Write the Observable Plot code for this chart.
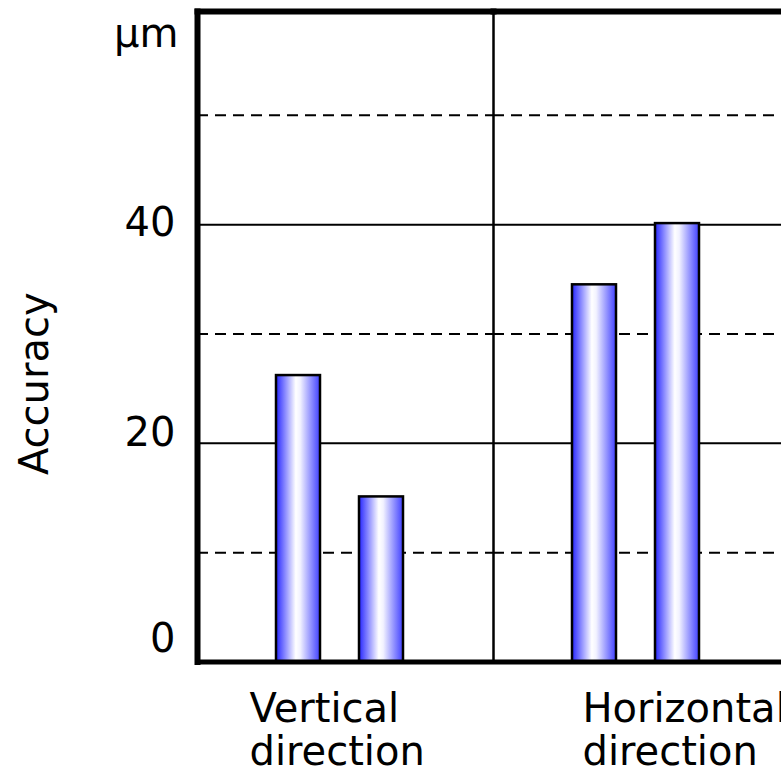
<!DOCTYPE html>
<html><head><meta charset="utf-8">
<script src="https://cdn.jsdelivr.net/npm/d3@7"></script>
<script src="https://cdn.jsdelivr.net/npm/@observablehq/plot@0.6"></script>
<style>html,body{margin:0;padding:0;background:#fff;overflow:hidden;} #chart svg{max-width:none !important;width:800px;height:776px;display:block;}</style>
</head><body><div id="chart"></div>
<script>
const categories = ["Vertical", "Horizontal"];
const categoryLabels = ["Vertical\ndirection", "Horizontal\ndirection"];
const series = ["A", "B"];
const valuesA = [26.2, 34.5];
const valuesB = [15.1, 40.1];
const yTicks = [0, 20, 40];
const majorGrid = [20, 40];
const minorGrid = [10, 30, 50];
const yMax = 59.5;
const yUnit = "µm";
const yTitle = "Accuracy";

const data = categories.flatMap((c, i) => [
  {cat: c, series: series[0], value: valuesA[i]},
  {cat: c, series: series[1], value: valuesB[i]}
]);
const labelRows = categories.map((c, i) => ({cat: c, label: categoryLabels[i]}));
const firstCat = [{cat: categories[0], unit: yUnit, title: yTitle}];

const font = "DejaVu Sans";
const tickLabel = (t, dy) => Plot.axisY({ticks: [t], tickSize: 0, tickPadding: 22, fontSize: 40, label: null, dy});
const plot = Plot.plot({
  width: 800, height: 776,
  marginLeft: 197, marginRight: 11, marginTop: 11, marginBottom: 114.5,
  style: {fontFamily: font, fontSize: "40px", color: "black", background: "white", overflow: "visible", maxWidth: "none"},
  fx: {domain: categories, padding: 0, axis: null},
  x: {domain: series, paddingInner: 0.464, paddingOuter: 1.015, align: 0.47, axis: null},
  y: {domain: [0, yMax], axis: null},
  marks: [
    Plot.ruleY(minorGrid, {stroke: "black", strokeWidth: 2, strokeDasharray: "11,7"}),
    Plot.ruleY(majorGrid, {stroke: "black", strokeWidth: 2}),
    Plot.frame({stroke: "black", strokeWidth: 2}),
    Plot.barY(data, {fx: "cat", x: "series", y: "value", fill: "url(#barGrad)", stroke: "black", strokeWidth: 2.5}),
    Plot.ruleY([0], {stroke: "black", strokeWidth: 5}),
    Plot.frame({anchor: "top", stroke: "black", strokeWidth: 6}),
    Plot.frame({anchor: "left", facetAnchor: "left", stroke: "black", strokeWidth: 6}),
    tickLabel(yTicks[0], -23),
    tickLabel(yTicks[1], -10),
    tickLabel(yTicks[2], -2),
    Plot.text(firstCat, {fx: "cat", text: "unit", frameAnchor: "top-left", textAnchor: "end", lineAnchor: "top", dx: -19, dy: 7, fontSize: 40}),
    Plot.text(firstCat, {fx: "cat", text: "title", frameAnchor: "left", textAnchor: "middle", lineAnchor: "middle", rotate: -90, dx: -162, dy: 47, fontSize: 40}),
    Plot.text(labelRows.filter(d => d.cat === categories[0]), {fx: "cat", text: "label", frameAnchor: "bottom", textAnchor: "start", lineAnchor: "top", lineHeight: 1.075, dx: -96, dy: 29, fontSize: 40}),
    Plot.text(labelRows.filter(d => d.cat === categories[1]), {fx: "cat", text: "label", frameAnchor: "bottom", textAnchor: "start", lineAnchor: "top", lineHeight: 1.075, dx: -59, dy: 29, fontSize: 40})
  ]
});

const defs = d3.select(plot).insert("defs", ":first-child");
const grad = defs.append("linearGradient").attr("id", "barGrad").attr("x1", 0).attr("x2", 1).attr("y1", 0).attr("y2", 0);
[[0, "#2626ff"], [0.45, "#ffffff"], [0.55, "#f2f2ff"], [1, "#4040ff"]].forEach(([o, c]) =>
  grad.append("stop").attr("offset", o).attr("stop-color", c));

document.getElementById("chart").append(plot);
</script>
</body></html>
